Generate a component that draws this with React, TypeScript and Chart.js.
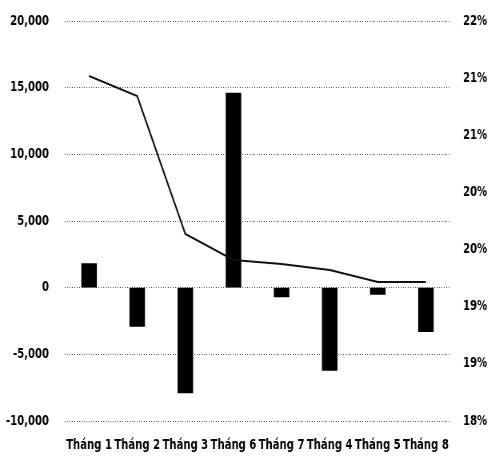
import React, { useEffect, useRef } from "react";
import { Chart, registerables } from "chart.js";

Chart.register(...registerables);

const categories = ["Tháng 1", "Tháng 2", "Tháng 3", "Tháng 6", "Tháng 7", "Tháng 4", "Tháng 5", "Tháng 8"];
const barValues = [1800, -2900, -7900, 14600, -700, -6200, -500, -3300];
const lineValues = [21.45, 21.25, 19.87, 19.61, 19.57, 19.51, 19.39, 19.39];
const rightTickLabels = ["18%", "19%", "19%", "20%", "20%", "21%", "21%", "22%"];

const FONT = "'DejaVu Sans Condensed', 'DejaVu Sans', sans-serif";

// The canvas is drawn wider than it is shown, then narrowed by CSS, to imitate
// the condensed (narrow) typeface of the reference.
const VIEW_W = 491;
const VIEW_H = 458;
const CANVAS_W = 614;
const K = CANVAS_W / VIEW_W;

export default function App() {
  const ref = useRef<HTMLCanvasElement | null>(null);

  useEffect(() => {
    if (!ref.current) return;
    const chart = new Chart(ref.current, {
      data: {
        labels: categories,
        datasets: [
          {
            type: "line",
            data: lineValues,
            yAxisID: "y1",
            borderColor: "#111",
            borderWidth: 2,
            pointRadius: 0,
            tension: 0,
            order: 0,
          },
          {
            type: "bar",
            data: barValues,
            yAxisID: "y",
            backgroundColor: "#000",
            barThickness: 15 * K,
            order: 1,
          },
        ],
      },
      options: {
        animation: false,
        responsive: false,
        maintainAspectRatio: false,
        devicePixelRatio: 1,
        layout: { padding: { top: 21, left: 0, right: 0, bottom: 0 } },
        plugins: { legend: { display: false }, tooltip: { enabled: false } },
        scales: {
          x: {
            grid: { display: false, drawTicks: false },
            border: { display: false },
            ticks: {
              color: "#000",
              padding: 16,
              maxRotation: 0,
              autoSkip: false,
              font: { family: FONT, size: 14, weight: "bold" },
            },
            afterFit: (s: any) => {
              s.height = 37;
            },
          },
          y: {
            position: "left",
            min: -10000,
            max: 20000,
            ticks: {
              stepSize: 5000,
              color: "#000",
              padding: 16 * K,
              font: { family: FONT, size: 14, weight: "bold" },
              callback: (v: any) => Number(v).toLocaleString("en-US"),
            },
            grid: {
              color: "#444",
              lineWidth: 1,
              drawTicks: false,
            },
            border: { display: false, dash: [1, 2] },
            afterFit: (s: any) => {
              s.width = 65 * K;
              s.paddingTop = 0;
              s.paddingBottom = 0;
            },
          },
          y1: {
            position: "right",
            min: 18,
            max: 22,
            ticks: {
              count: 8,
              color: "#000",
              padding: 13 * K,
              font: { family: FONT, size: 14, weight: "bold" },
              callback: (_v: any, i: number) => rightTickLabels[i],
            },
            grid: { display: false, drawTicks: false },
            border: { display: false },
            afterFit: (s: any) => {
              s.width = 41 * K;
              s.paddingTop = 0;
              s.paddingBottom = 0;
            },
          },
        },
      },
    } as any);
    return () => chart.destroy();
  }, []);

  return (
    <div style={{ position: "fixed", left: 0, top: 0, width: VIEW_W, height: VIEW_H, background: "#fff" }}>
      <canvas
        ref={ref}
        width={CANVAS_W}
        height={VIEW_H}
        style={{ display: "block", width: VIEW_W, height: VIEW_H }}
      />
    </div>
  );
}
